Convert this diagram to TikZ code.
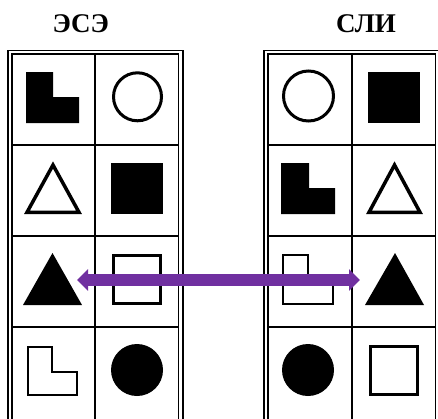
\documentclass[tikz,border=0pt]{standalone}
\usepackage{fontspec}
\setmainfont{Liberation Serif}
\usetikzlibrary{arrows.meta}
\definecolor{arrowpurple}{HTML}{7030A0}
\begin{document}
\begin{tikzpicture}[x=1pt,y=-1pt,
  frame/.style={line width=1.6pt},
  gridline/.style={line width=1.8pt},
  solidshape/.style={fill=black},
  openshape/.style={draw=black, line width=3pt},
  thinopen/.style={draw=black, line width=2pt},
  title/.style={font=\fontsize{27}{30}\selectfont\bfseries, inner sep=0pt},
  link/.style={draw=arrowpurple, line width=12pt,
    {Triangle[width=21pt,length=11pt]}-{Triangle[width=21pt,length=11pt]}}]
\useasboundingbox (0,0) rectangle (438,418);

% titles
\node[title] (ese) at (80.8,24) {ЭСЭ};
\node[title] (sli) at (366,24) {СЛИ};

% left table frame
\draw[frame] (8,420) -- (8,50.3) -- (182.7,50.3) -- (182.7,420);
\draw[frame] (12,420) -- (12,54.2) -- (178.3,54.2) -- (178.3,420);
\draw[gridline] (95,54.2) -- (95,420);
\foreach \yy in {145,236,327} \draw[gridline] (12,\yy) -- (178.3,\yy);

% right table frame
\draw[frame] (264,420) -- (264,50.3) -- (441,50.3);
\draw[frame] (268,420) -- (268,54.2) -- (435.5,54.2) -- (435.5,420);
\draw[gridline] (352,54.2) -- (352,420);
\foreach \yy in {145,236,327} \draw[gridline] (268,\yy) -- (435.5,\yy);

% left table shapes
\fill[solidshape] (26,72) -- (53,72) -- (53,97) -- (79,97) -- (79,123) -- (26,123) -- cycle;
\draw[openshape] (137.5,96.8) circle (24);
\draw[openshape, line width=3.5pt] (27,212.3) -- (79,212.3) -- (53,165) -- cycle;
\fill[solidshape] (111,163) rectangle (163,214);
\fill[solidshape] (23,305) -- (82,305) -- (52.5,253) -- cycle;
\draw[openshape] (113.5,255.5) rectangle (160.5,303.5);
\draw[thinopen] (28,347) -- (52,347) -- (52,372) -- (77,372) -- (77,395) -- (28,395) -- cycle;
\fill[solidshape] (137,370) circle (26);

% right table shapes
\draw[openshape] (308.5,96) circle (25);
\fill[solidshape] (368,72) rectangle (420,123);
\fill[solidshape] (281,163) -- (309,163) -- (309,188) -- (335,188) -- (335,214) -- (281,214) -- cycle;
\draw[openshape, line width=3.5pt] (369,212.3) -- (420,212.3) -- (394.5,165) -- cycle;
\draw[thinopen] (283,255) -- (308,255) -- (308,280) -- (333,280) -- (333,304) -- (283,304) -- cycle;
\fill[solidshape] (365,305) -- (424,305) -- (395,253) -- cycle;
\fill[solidshape] (308,370) circle (26);
\draw[openshape] (370.5,346.5) rectangle (417.5,394.5);

% arrow
\coordinate (lefttip) at (77,280);
\coordinate (righttip) at (360,280);
\draw[link] (lefttip) -- (righttip);
\end{tikzpicture}
\end{document}
